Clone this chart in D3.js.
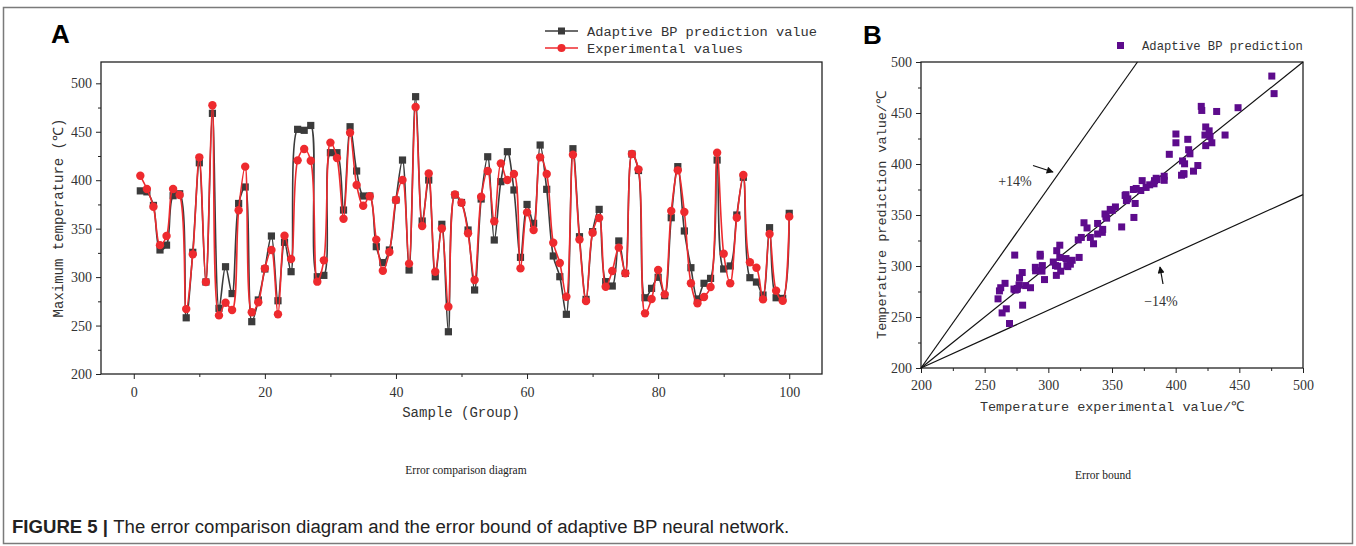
<!DOCTYPE html>
<html><head><meta charset="utf-8">
<script src="https://cdn.jsdelivr.net/npm/d3@7"></script>
<style>body{margin:0;background:#fff}svg{display:block}</style>
</head><body>
<svg id="c" width="1356" height="546"></svg>
<script>
// ---------------- data ----------------
const samples = d3.range(1, 101);
const predicted = [389,388,374,328,333,384,386,258,325.6,418,295,469,267.8,310.7,283,376,393,254,276.4,308.4,
 342.4,275.6,335.9,305.6,452.5,451.5,456.5,300.4,301.8,428.4,428.4,369.2,455.2,409.5,383.7,383.7,331.4,315,328,379.6,
 420.8,307.3,486.2,357.9,400.2,300.4,354.5,243.6,384.7,377,348.6,286.7,380.6,424.2,338.3,398.5,429.4,389.9,320.4,375,
 355.5,436.3,390.6,321.8,300.4,261.6,432.5,341.7,277,346.9,369.9,295.3,290.8,337.3,303.9,427,410,278.7,288.4,299.8,
 280.8,361.3,414,347.6,309.7,277.4,293.6,298.7,420.8,308.4,311.5,364.1,403,299.4,294.9,281.5,351,278.7,278,365.8];
const experimental = [404.6,391,372.6,333,342.4,391,384.7,267,323.5,423.6,295,477.3,260.5,273.6,266,369,414,263.7,274,309,
 328,261.6,342.7,318.7,420.5,432.2,420.1,295.3,317.3,438.8,423,360.3,449,395,373.7,383.4,338.7,306.6,325.9,379.6,
 400.2,313.9,475.5,352.7,407,305.6,350.2,269.5,385.4,376.8,345.2,297,383,409.5,357.6,417.4,400.2,406.4,309,366.8,
 348.6,423.6,406.4,335.5,314.6,279.8,426.3,338.7,275.3,345.8,361,290,306.3,330.4,303.9,427,411.2,262.6,277.4,307.3,
 282.2,368.2,410.2,367.2,293.6,273,279.5,289.8,428.4,324.2,293.6,361.3,405.4,315.3,309.7,277,344.5,286,275.6,362.4];
const xTicksA = [0, 20, 40, 60, 80, 100];
const xMinorA = [10, 30, 50, 70, 90];
const yTicksA = [200, 250, 300, 350, 400, 450, 500];
const yMinorA = [225, 275, 325, 375, 425, 475];
const ticksB = [200, 250, 300, 350, 400, 450, 500];
const minorB = [225, 275, 325, 375, 425, 475];
const upperBound = [[200, 200], [370, 500]];
const equalLine = [[200, 200], [500, 500]];
const lowerBound = [[200, 200], [500, 370]];
const legendA = ["Adaptive BP prediction value", "Experimental values"];
const legendB = ["Adaptive BP prediction"];
const boundLabels = ["+14%", "\u221214%"];

// ---------------- drawing ----------------
const svg = d3.select("#c");
const C_BLACK = "#3b3b3b", C_RED = "#ee2a2e", C_PURPLE = "#5d0b8c";
const MONO = "'Liberation Mono', 'DejaVu Sans Mono', monospace";
const SERIF = "'Liberation Serif', 'DejaVu Serif', serif";

// outer frame
svg.append("rect").attr("x", 3.5).attr("y", 7.5).attr("width", 1349).attr("height", 536)
  .attr("fill", "none").attr("stroke", "#7a7a7a").attr("stroke-width", 1.5);

// -------- Panel A --------
const xA = d3.scaleLinear([-5, 105], [101, 822]);
const yA = d3.scaleLinear([200, 522], [374, 62]);

svg.append("text").attr("x", 51).attr("y", 43).text("A")
  .attr("font-family", "'Liberation Sans', Arial, sans-serif").attr("font-weight", "bold").attr("font-size", 26);

const gA = svg.append("g");
function axesA() {
  const ax = gA.append("g").attr("transform", `translate(0,${yA.range()[0]})`)
    .call(d3.axisBottom(xA).tickValues(xTicksA).tickSize(5).tickPadding(8));
  ax.select(".domain").remove();
  ax.selectAll("text").attr("font-family", SERIF).attr("font-size", 14).attr("fill", "#333");
  gA.append("g").attr("transform", `translate(0,${yA.range()[0]})`)
    .call(d3.axisBottom(xA).tickValues(xMinorA).tickSize(3).tickFormat(""))
    .select(".domain").remove();
  const ay = gA.append("g").attr("transform", `translate(${xA.range()[0]},0)`)
    .call(d3.axisLeft(yA).tickValues(yTicksA).tickSize(5).tickPadding(4));
  ay.select(".domain").remove();
  ay.selectAll("text").attr("font-family", SERIF).attr("font-size", 14).attr("fill", "#333");
  gA.append("g").attr("transform", `translate(${xA.range()[0]},0)`)
    .call(d3.axisLeft(yA).tickValues(yMinorA).tickSize(3).tickFormat(""))
    .select(".domain").remove();
  gA.selectAll(".tick line").attr("stroke", "#222");
  gA.append("rect").attr("x", xA.range()[0]).attr("y", yA.range()[1])
    .attr("width", xA.range()[1] - xA.range()[0]).attr("height", yA.range()[0] - yA.range()[1])
    .attr("fill", "none").attr("stroke", "#222").attr("stroke-width", 1.3);
}
axesA();

const lineA = (vals) => d3.line().curve(d3.curveCatmullRom.alpha(0.5))
  .x((d, i) => xA(samples[i])).y(d => yA(d))(vals);

gA.append("path").attr("d", lineA(predicted)).attr("fill", "none").attr("stroke", C_BLACK).attr("stroke-width", 1.6);
gA.selectAll("rect.pm").data(predicted).join("rect").attr("class", "pm")
  .attr("x", (d, i) => xA(samples[i]) - 3.6).attr("y", d => yA(d) - 3.6)
  .attr("width", 7.2).attr("height", 7.2).attr("fill", C_BLACK);
gA.append("path").attr("d", lineA(experimental)).attr("fill", "none").attr("stroke", C_RED).attr("stroke-width", 1.6);
gA.selectAll("circle.em").data(experimental).join("circle").attr("class", "em")
  .attr("cx", (d, i) => xA(samples[i])).attr("cy", d => yA(d)).attr("r", 4.2).attr("fill", C_RED);

// axis titles A
svg.append("text").attr("x", 461).attr("y", 417).attr("text-anchor", "middle")
  .attr("font-family", MONO).attr("font-size", 14).attr("fill", "#333").text("Sample (Group)");
svg.append("text").attr("transform", "translate(63,218) rotate(-90)").attr("text-anchor", "middle")
  .attr("font-family", MONO).attr("font-size", 14).attr("fill", "#333").text("Maximum temperature (\u2103)");

// legend A
const legA = svg.append("g");
legendA.forEach((t, i) => {
  const y = 31 + i * 17, col = i === 0 ? C_BLACK : C_RED;
  legA.append("line").attr("x1", 545).attr("x2", 578).attr("y1", y).attr("y2", y).attr("stroke", col).attr("stroke-width", 1.6);
  if (i === 0) legA.append("rect").attr("x", 558).attr("y", y - 3.5).attr("width", 7).attr("height", 7).attr("fill", col);
  else legA.append("circle").attr("cx", 561.5).attr("cy", y).attr("r", 4).attr("fill", col);
  legA.append("text").attr("x", 587).attr("y", y + 5).attr("font-family", MONO).attr("font-size", 13.7)
    .attr("fill", "#333").text(t);
});

svg.append("text").attr("x", 466).attr("y", 474).attr("text-anchor", "middle")
  .attr("font-family", SERIF).attr("font-size", 11.5).attr("fill", "#222").text("Error comparison diagram");

// -------- Panel B --------
const xB = d3.scaleLinear([200, 500], [921, 1303]);
const yB = d3.scaleLinear([200, 500], [368, 62]);

svg.append("text").attr("x", 863).attr("y", 44).text("B")
  .attr("font-family", "'Liberation Sans', Arial, sans-serif").attr("font-weight", "bold").attr("font-size", 26);

const gB = svg.append("g");
const bx = gB.append("g").attr("transform", `translate(0,${yB.range()[0]})`)
  .call(d3.axisBottom(xB).tickValues(ticksB).tickSize(5).tickPadding(7));
bx.select(".domain").remove();
bx.selectAll("text").attr("font-family", SERIF).attr("font-size", 14).attr("fill", "#333");
gB.append("g").attr("transform", `translate(0,${yB.range()[0]})`)
  .call(d3.axisBottom(xB).tickValues(minorB).tickSize(3).tickFormat("")).select(".domain").remove();
const by = gB.append("g").attr("transform", `translate(${xB.range()[0]},0)`)
  .call(d3.axisLeft(yB).tickValues(ticksB).tickSize(5).tickPadding(4));
by.select(".domain").remove();
by.selectAll("text").attr("font-family", SERIF).attr("font-size", 14).attr("fill", "#333");
gB.append("g").attr("transform", `translate(${xB.range()[0]},0)`)
  .call(d3.axisLeft(yB).tickValues(minorB).tickSize(3).tickFormat("")).select(".domain").remove();
gB.selectAll(".tick line").attr("stroke", "#222");
gB.append("rect").attr("x", xB.range()[0]).attr("y", yB.range()[1])
  .attr("width", xB.range()[1] - xB.range()[0]).attr("height", yB.range()[0] - yB.range()[1])
  .attr("fill", "none").attr("stroke", "#222").attr("stroke-width", 1.3);

const lineB = d3.line().x(d => xB(d[0])).y(d => yB(d[1]));
[upperBound, equalLine, lowerBound].forEach(l =>
  gB.append("path").attr("d", lineB(l)).attr("fill", "none").attr("stroke", "#111").attr("stroke-width", 1.2));

gB.selectAll("rect.sp").data(experimental).join("rect").attr("class", "sp")
  .attr("x", (d, i) => xB(d) - 3.5).attr("y", (d, i) => yB(predicted[i]) - 3.5)
  .attr("width", 7).attr("height", 7).attr("fill", C_PURPLE);

// arrows & labels
svg.append("defs").append("marker").attr("id", "ah").attr("viewBox", "0 0 10 10")
  .attr("refX", 9).attr("refY", 5).attr("markerWidth", 9).attr("markerHeight", 7).attr("orient", "auto")
  .attr("markerUnits", "userSpaceOnUse")
  .append("path").attr("d", "M0,0 L10,5 L0,10 Z").attr("fill", "#111");
svg.append("line").attr("x1", 1033).attr("y1", 165.5).attr("x2", 1053).attr("y2", 172)
  .attr("stroke", "#111").attr("stroke-width", 1.2).attr("marker-end", "url(#ah)");
svg.append("text").attr("x", 1015).attr("y", 186).attr("text-anchor", "middle")
  .attr("font-family", SERIF).attr("font-size", 14).attr("fill", "#333").text(boundLabels[0]);
svg.append("line").attr("x1", 1163).attr("y1", 284).attr("x2", 1160).attr("y2", 267)
  .attr("stroke", "#111").attr("stroke-width", 1.2).attr("marker-end", "url(#ah)");
svg.append("text").attr("x", 1161).attr("y", 306).attr("text-anchor", "middle")
  .attr("font-family", SERIF).attr("font-size", 14).attr("fill", "#333").text(boundLabels[1]);

// legend B
svg.append("rect").attr("x", 1117).attr("y", 42).attr("width", 7).attr("height", 7).attr("fill", C_PURPLE);
svg.append("text").attr("x", 1142).attr("y", 50).attr("font-family", MONO).attr("font-size", 12.2)
  .attr("fill", "#333").text(legendB[0]);

// axis titles B
svg.append("text").attr("x", 1112).attr("y", 411).attr("text-anchor", "middle")
  .attr("font-family", MONO).attr("font-size", 13.5).attr("fill", "#333").text("Temperature experimental value/\u2103");
svg.append("text").attr("transform", "translate(886,215) rotate(-90)").attr("text-anchor", "middle")
  .attr("font-family", MONO).attr("font-size", 13.5).attr("fill", "#333").text("Temperature prediction value/\u2103");

svg.append("text").attr("x", 1103).attr("y", 479).attr("text-anchor", "middle")
  .attr("font-family", SERIF).attr("font-size", 11.5).attr("fill", "#222").text("Error bound");

// caption
const cap = svg.append("text").attr("x", 12).attr("y", 533)
  .attr("font-family", "'Liberation Sans', Arial, sans-serif").attr("font-size", 16).attr("fill", "#222");
cap.append("tspan").attr("font-weight", "bold").text("FIGURE 5 | ");
cap.append("tspan").text("The error comparison diagram and the error bound of adaptive BP neural network.");
const w = cap.node().getComputedTextLength();
cap.attr("font-size", 16 * 778 / w);
</script>
</body></html>
